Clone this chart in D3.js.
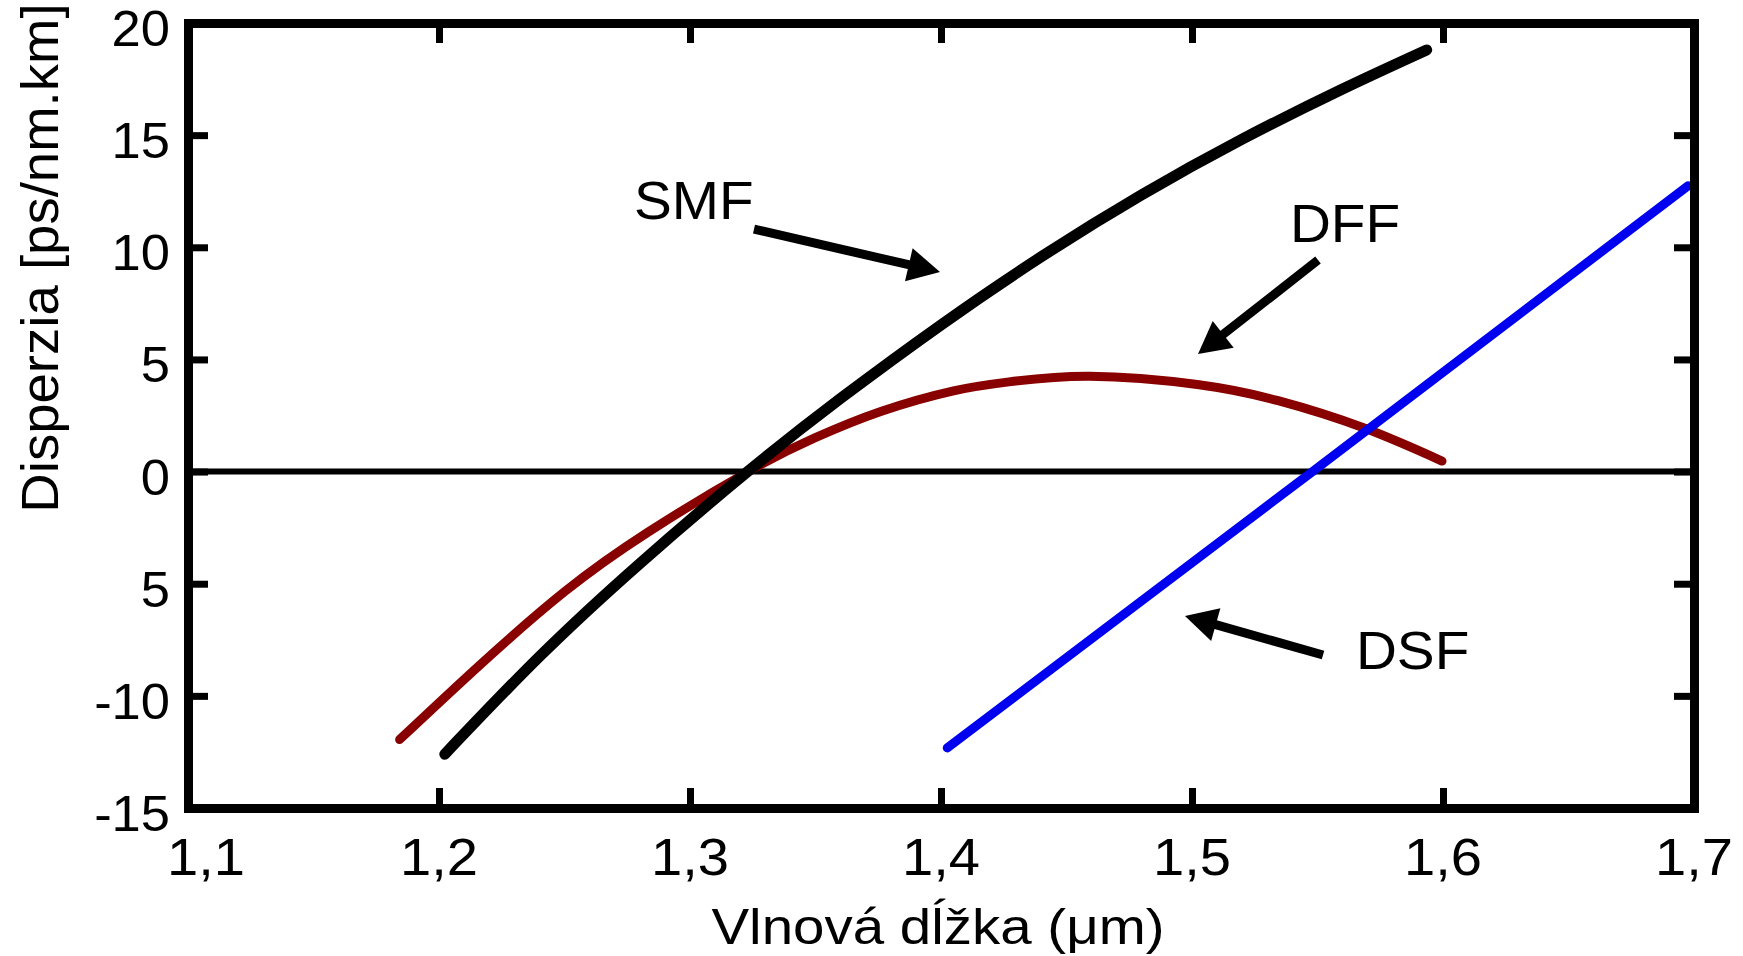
<!DOCTYPE html>
<html>
<head>
	<meta charset="utf-8">
	<title>Disperzia</title>
	<script type="text/javascript" src="https://d3js.org/d3.v7.min.js"></script>
	<style>
		body { margin: 0; background: #fff; }
		text { font-family: "Liberation Sans", Arial, sans-serif; fill: #000; }
	</style>
</head>
<body>
	<script type="text/javascript">
		// values (wavelength in um, dispersion in ps/nm.km)
		var xTicks = [1.1, 1.2, 1.3, 1.4, 1.5, 1.6, 1.7];
		var xTickLabels = ["1,1", "1,2", "1,3", "1,4", "1,5", "1,6", "1,7"];
		var yTicks = [20, 15, 10, 5, 0, -5, -10, -15];
		var yTickLabels = ["20", "15", "10", "5", "0", "5", "-10", "-15"];

		var smfX = [1.2023, 1.24, 1.28, 1.323, 1.36, 1.40, 1.44, 1.48, 1.52, 1.56, 1.5935];
		var smfY = [-12.6, -8.25, -4.1, 0.0, 3.26, 6.54, 9.58, 12.34, 14.82, 17.06, 18.8];

		var dffX = [1.1843, 1.2169, 1.2501, 1.2833, 1.3232, 1.3497, 1.3763, 1.405, 1.4271, 1.4593, 1.5021, 1.5343, 1.5686, 1.5996];
		var dffY = [-11.95, -8.56, -5.35, -2.7, 0.0, 1.5, 2.69, 3.6, 4.0, 4.25, 3.88, 3.16, 1.94, 0.47];

		var dsfX = [1.4025, 1.548, 1.6976];
		var dsfY = [-12.32, 0.0, 12.74];

		var labels = ["SMF", "DFF", "DSF"];
		// label anchor and arrow (tail -> tip) in data units
		var labelPos = [[1.2777, 11.26], [1.5390, 10.23], [1.5653, -8.8]];
		var arrowFrom = [[1.3255, 10.81], [1.5502, 9.43], [1.5522, -8.18]];
		var arrowTo = [[1.3996, 8.9], [1.5024, 5.24], [1.4972, -6.44]];

		var W = 1743, H = 956;
		var x = d3.scaleLinear().domain([1.1, 1.7]).range([188, 1694]);
		var y = d3.scaleLinear().domain([-15, 20]).range([808, 23]);

		var svg = d3.select("body").append("svg").attr("width", W).attr("height", H);

		// zero line
		svg.append("line")
			.attr("x1", x(1.1)).attr("x2", x(1.7))
			.attr("y1", y(0)).attr("y2", y(0))
			.attr("stroke", "#000").attr("stroke-width", 6);

		function series(xs, ys) {
			return xs.map(function (v, i) { return [v, ys[i]]; });
		}

		var line = d3.line()
			.x(function (d) { return x(d[0]); })
			.y(function (d) { return y(d[1]); })
			.curve(d3.curveNatural);

		var curves = [
			{ data: series(dffX, dffY), color: "#880000", w: 9 },
			{ data: series(smfX, smfY), color: "#000000", w: 11 },
			{ data: series(dsfX, dsfY), color: "#0000f0", w: 9 }
		];

		svg.selectAll("path.curve")
			.data(curves)
			.enter()
			.append("path")
			.attr("class", "curve")
			.attr("d", function (d) { return line(d.data); })
			.attr("fill", "none")
			.attr("stroke", function (d) { return d.color; })
			.attr("stroke-width", function (d) { return d.w; })
			.attr("stroke-linecap", "round");

		// axes: box with inward ticks on all four sides
		var tickLen = 20;
		var gB = svg.append("g").attr("transform", "translate(0," + y(-15) + ")")
			.call(d3.axisBottom(x).tickValues(xTicks).tickSizeInner(-tickLen).tickSizeOuter(0).tickFormat(""));
		var gT = svg.append("g").attr("transform", "translate(0," + y(20) + ")")
			.call(d3.axisTop(x).tickValues(xTicks).tickSizeInner(-tickLen).tickSizeOuter(0).tickFormat(""));
		var gL = svg.append("g").attr("transform", "translate(" + x(1.1) + ",0)")
			.call(d3.axisLeft(y).tickValues(yTicks).tickSizeInner(-tickLen).tickSizeOuter(0).tickFormat(""));
		var gR = svg.append("g").attr("transform", "translate(" + x(1.7) + ",0)")
			.call(d3.axisRight(y).tickValues(yTicks).tickSizeInner(-tickLen).tickSizeOuter(0).tickFormat(""));

		[gB, gT, gL, gR].forEach(function (g) {
			g.select(".domain").attr("stroke", "#000").attr("stroke-width", 9).attr("stroke-linecap", "square");
			g.selectAll(".tick line").attr("stroke", "#000").attr("stroke-width", 7);
		});

		// text drawn a little wider than the font, like the original
		function label(sel, px, py, size, sx, rot) {
			sel.attr("transform", "translate(" + px + "," + py + ")" + (rot ? " rotate(" + rot + ")" : "") + " scale(" + sx + ",1)")
				.style("font-size", size + "px");
			return sel;
		}

		svg.selectAll("text.xlab")
			.data(xTicks)
			.enter()
			.append("text")
			.attr("class", "xlab")
			.attr("text-anchor", "middle")
			// first label sits a bit right of its tick, clear of the "-15"
			.each(function (d, i) { label(d3.select(this), x(d) + (i === 0 ? 18 : 0), 875, 51, 1.1); })
			.text(function (d, i) { return xTickLabels[i]; });

		svg.selectAll("text.ylab")
			.data(yTicks)
			.enter()
			.append("text")
			.attr("class", "ylab")
			.attr("text-anchor", "end")
			.each(function (d) { label(d3.select(this), 170, y(d) + 23, 50, 1.05); })
			.text(function (d, i) { return yTickLabels[i]; });

		// axis titles
		label(svg.append("text"), 938, 944, 50, 1.13).attr("text-anchor", "middle")
			.text("Vlnová dĺžka (μm)");

		label(svg.append("text"), 58, 258, 51, 1.07, -90).attr("text-anchor", "middle")
			.text("Disperzia [ps/nm.km]");

		// annotations
		svg.selectAll("text.ann")
			.data(labels)
			.enter()
			.append("text")
			.attr("class", "ann")
			.each(function (d, i) { label(d3.select(this), x(labelPos[i][0]), y(labelPos[i][1]), 53, 1.07); })
			.text(function (d) { return d; });

		function arrow(a, b) {
			var x0 = x(a[0]), y0 = y(a[1]), x1 = x(b[0]), y1 = y(b[1]);
			var dx = x1 - x0, dy = y1 - y0, len = Math.sqrt(dx * dx + dy * dy);
			var ux = dx / len, uy = dy / len, headL = 32, headW = 17;
			var bx = x1 - ux * headL, by = y1 - uy * headL;
			svg.append("line")
				.attr("x1", x0).attr("y1", y0).attr("x2", bx + ux * 2).attr("y2", by + uy * 2)
				.attr("stroke", "#000").attr("stroke-width", 9);
			svg.append("path")
				.attr("d", "M" + x1 + "," + y1 +
					"L" + (bx - uy * headW) + "," + (by + ux * headW) +
					"L" + (bx + uy * headW) + "," + (by - ux * headW) + "Z")
				.attr("fill", "#000");
		}
		for (var i = 0; i < arrowFrom.length; i++) arrow(arrowFrom[i], arrowTo[i]);
	</script>
</body>
</html>
